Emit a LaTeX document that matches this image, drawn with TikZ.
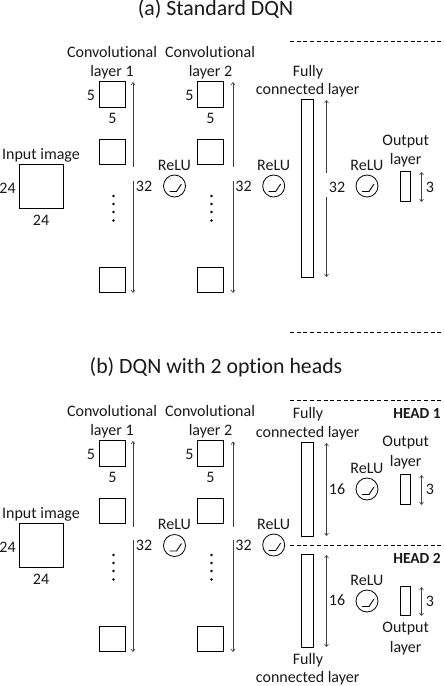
\documentclass[tikz,border=0pt]{standalone}
\usepackage{fontspec}
\setmainfont{Carlito}[Ligatures=NoCommon]
\usetikzlibrary{arrows.meta}
\tikzset{
  lab/.style={inner sep=0pt,font=\fontsize{16}{18}\selectfont,text height=12.5pt,text depth=2.5pt,text=black!90},
  ttl/.style={inner sep=0pt,font=\fontsize{21.8}{24}\selectfont,text height=14pt,text depth=4pt,text=black!90},
  hd/.style={lab,font=\fontsize{15.4}{18}\selectfont\bfseries},
  blk/.style={draw=black,line width=.8pt,inner sep=0pt,outer sep=0pt,fill=white},
  dimarrow/.style={draw=black!75,line width=.6pt,{Straight Barb[length=2.5pt,width=4pt]}-{Straight Barb[length=2.5pt,width=4pt]}},
  halfarrow/.style={draw=black!75,line width=.6pt,-{Straight Barb[length=2.5pt,width=4pt]}},
  dashline/.style={draw=black,line width=.7pt,dash pattern=on 4pt off 2.7pt},
  relu/.style={circle,draw=black,line width=.8pt,minimum size=22pt,inner sep=0pt,
    path picture={\draw[line width=.9pt,black] ([shift={(-5pt,-5.5pt)}]path picture bounding box.center) -- ++(7pt,0pt) -- ++(5pt,7.5pt);}},
  dotn/.style={circle,fill=black,inner sep=0pt,minimum size=2.6pt}
}
\newcommand\blkn[5]{\node[blk,minimum width=#4pt,minimum height=#5pt] (#1) at (#2,#3) {};}
\newcommand\vdotsn[3]{\foreach \k/\d in {1/0,2/8,3/16,4/24.5}{\node[dotn] (#1\k) at (#2,#3+\d) {};}}
\newcommand\gaparrow[6]{%
  \coordinate (#1t) at (#2,#3); \coordinate (#1u) at (#2,#4);
  \coordinate (#1l) at (#2,#5); \coordinate (#1b) at (#2,#6);
  \draw[halfarrow] (#1u) -- (#1t); \draw[halfarrow] (#1l) -- (#1b);}
\newcommand\fullarrow[4]{%
  \coordinate (#1t) at (#2,#3); \coordinate (#1b) at (#2,#4);
  \draw[dimarrow] (#1t) -- (#1b);}
\begin{document}
\begin{tikzpicture}[x=1pt,y=-1pt]
\useasboundingbox[fill=white] (0,0) rectangle (444,686);

% ---------- (a)
\node[ttl] (ta) at (215.5,10.5) {(a) Standard DQN};
\coordinate (da1) at (290,41); \coordinate (da2) at (444,41);
\coordinate (da3) at (290,332); \coordinate (da4) at (444,332);
\draw[dashline] (da1) -- (da2);
\draw[dashline] (da3) -- (da4);

\node[lab] (ai) at (41,154) {Input image};
\blkn{ainp}{41.5}{186.5}{44}{44}
\node[lab] (ai1) at (7.5,188) {24};
\node[lab] (ai2) at (41,220) {24};

\node[lab] (ac1a) at (112,52) {Convolutional};
\node[lab] (ac1b) at (112,71) {layer 1};
\blkn{ac11}{112.5}{94}{26}{26}
\blkn{ac12}{112.5}{152}{26}{25}
\blkn{ac13}{112.5}{280}{26}{25}
\node[lab] (a5a) at (91,95) {5};
\node[lab] (a5b) at (112.5,118) {5};
\vdotsn{adl}{113.5}{196}
\gaparrow{aa1}{133}{82}{167}{181}{293}
\node[lab] (a32a) at (144,186) {32};
\node[relu] (ar1) at (174.5,186) {};
\node[lab] (ar1l) at (174.5,165) {ReLU};

\node[lab] (ac2a) at (210,52) {Convolutional};
\node[lab] (ac2b) at (210.5,71) {layer 2};
\blkn{ac21}{210.5}{94}{26}{26}
\blkn{ac22}{210.5}{152}{26}{25}
\blkn{ac23}{210.5}{280}{26}{25}
\node[lab] (a5c) at (189.5,95) {5};
\node[lab] (a5d) at (210.5,118) {5};
\vdotsn{adr}{211.5}{196}
\gaparrow{aa2}{233}{82}{167}{181}{293}
\node[lab] (a32b) at (243.5,186) {32};
\node[relu] (ar2) at (273.7,186) {};
\node[lab] (ar2l) at (273.7,165) {ReLU};

\node[lab] (af1) at (308,71) {Fully};
\node[lab] (af2) at (307.7,89) {connected layer};
\blkn{afc}{307.5}{188.5}{12}{178}
\gaparrow{aa3}{326.5}{100}{173}{197}{277}
\node[lab] (a32c) at (337,187) {32};
\node[relu] (ar3) at (367,186) {};
\node[lab] (ar3l) at (367,165) {ReLU};

\node[lab] (ao1) at (405.7,140) {Output};
\node[lab] (ao2) at (405.7,159) {layer};
\blkn{aout}{405.5}{186.3}{10.5}{30.5}
\fullarrow{aa4}{421.5}{172}{202}
\node[lab] (a3) at (430,187) {3};

% ---------- (b)
\node[ttl] (tb) at (216,368) {(b) DQN with 2 option heads};
\coordinate (db1) at (290,400); \coordinate (db2) at (444,400);
\coordinate (db3) at (290,545); \coordinate (db4) at (444,545);
\draw[dashline] (db1) -- (db2);
\draw[dashline] (db3) -- (db4);
\node[hd] (h1) at (417,413) {HEAD 1};
\node[hd] (h2) at (417,558) {HEAD 2};

\node[lab] (bi) at (41,513) {Input image};
\blkn{binp}{41.5}{545.5}{44}{44}
\node[lab] (bi1) at (7.5,547) {24};
\node[lab] (bi2) at (41,579) {24};

\node[lab] (bc1a) at (112,411) {Convolutional};
\node[lab] (bc1b) at (112,430) {layer 1};
\blkn{bc11}{112.5}{453.5}{26}{26}
\blkn{bc12}{112.5}{511}{26}{25}
\blkn{bc13}{112.5}{639}{26}{25}
\node[lab] (b5a) at (91,454) {5};
\node[lab] (b5b) at (112.5,477) {5};
\vdotsn{bdl}{113.5}{555}
\gaparrow{ba1}{133}{441}{527}{540}{652}
\node[lab] (b32a) at (144,545) {32};
\node[relu] (br1) at (174.5,545.5) {};
\node[lab] (br1l) at (174.5,524) {ReLU};

\node[lab] (bc2a) at (210,411) {Convolutional};
\node[lab] (bc2b) at (210.5,430) {layer 2};
\blkn{bc21}{210.5}{453.5}{26}{26}
\blkn{bc22}{210.5}{511}{26}{25}
\blkn{bc23}{210.5}{639}{26}{25}
\node[lab] (b5c) at (189.5,454) {5};
\node[lab] (b5d) at (210.5,477) {5};
\vdotsn{bdr}{211.5}{555}
\gaparrow{ba2}{233}{441.5}{527}{540}{652}
\node[lab] (b32b) at (243.5,545) {32};
\node[relu] (br2) at (273.7,545) {};
\node[lab] (br2l) at (273.7,524) {ReLU};

\node[lab] (bf1) at (308,413) {Fully};
\node[lab] (bf2) at (307.7,432) {connected layer};
\blkn{bfc1}{307.5}{489.3}{12}{94}
\fullarrow{ba3}{326.5}{443}{536}
\node[lab] (b16a) at (337,489) {16};
\node[relu] (br3) at (367,489) {};
\node[lab] (br3l) at (367,468) {ReLU};
\node[lab] (bo1) at (405.7,441.7) {Output};
\node[lab] (bo2) at (405.7,461) {layer};
\blkn{bout1}{405.5}{489.3}{10.5}{30}
\fullarrow{ba4}{421.5}{475}{505}
\node[lab] (b3a) at (430,489) {3};

\blkn{bfc2}{307.5}{600.8}{12}{93}
\fullarrow{ba5}{326.5}{555}{647}
\node[lab] (b16b) at (337,600.7) {16};
\node[relu] (br4) at (367,601) {};
\node[lab] (br4l) at (367,580) {ReLU};
\blkn{bout2}{405.5}{600.8}{10.5}{29}
\fullarrow{ba6}{421.5}{587}{616}
\node[lab] (b3b) at (430,601) {3};
\node[lab] (bo3) at (405.7,627.7) {Output};
\node[lab] (bo4) at (405.7,647) {layer};
\node[lab] (bf3) at (308,659) {Fully};
\node[lab] (bf4) at (307.7,677.5) {connected layer};
\end{tikzpicture}
\end{document}
